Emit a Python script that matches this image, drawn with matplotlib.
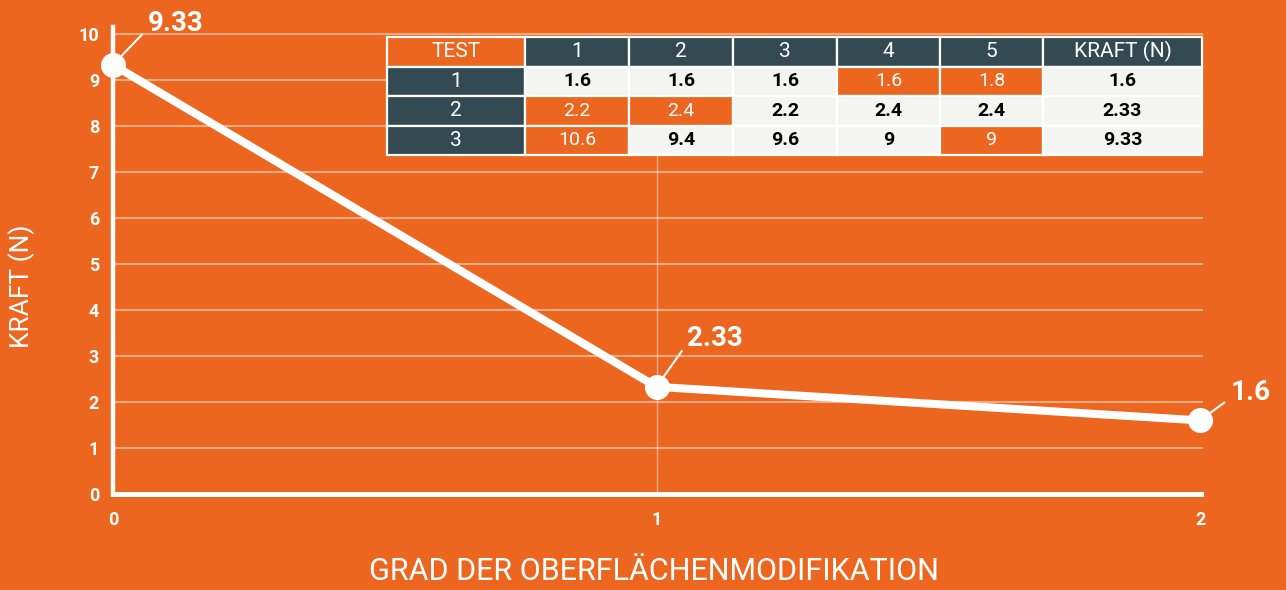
import matplotlib
matplotlib.use("Agg")
import matplotlib.pyplot as plt

# ---- data ----
x_levels = [0, 1, 2]
x_ticklabels = ["0", "1", "2"]
kraft = [9.33, 2.33, 1.6]
kraft_labels = ["9.33", "2.33", "1.6"]
y_ticks = list(range(0, 11))

table_header = ["TEST", "1", "2", "3", "4", "5", "KRAFT (N)"]
table_rows = [
    ["1", "1.6", "1.6", "1.6", "1.6", "1.8", "1.6"],
    ["2", "2.2", "2.4", "2.2", "2.4", "2.4", "2.33"],
    ["3", "10.6", "9.4", "9.6", "9", "9", "9.33"],
]
# cells highlighted in orange (row index, column index)
highlight = [(0, 4), (0, 5), (1, 1), (1, 2), (2, 1), (2, 5)]

ORANGE = "#EC661F"
SLATE = "#344A53"
LIGHT = "#F4F4F2"

plt.rcParams["font.family"] = ["Roboto", "DejaVu Sans"]

fig = plt.figure(figsize=(12.86, 5.9), dpi=100, facecolor=ORANGE)
ax = fig.add_axes([113 / 1286, 1 - 494 / 590, 1087 / 1286, 10.15 * 46 / 590])
ax.set_facecolor(ORANGE)

ax.set_xlim(0, 2)
ax.set_ylim(0, 10.15)

# table placement (axes fraction)
x0 = (387 - 113) / 1087
x1 = (1202 - 113) / 1087
ytop = (494 - 37) / 46 / 10.15
ybot = (494 - 155) / 46 / 10.15

# grid
for yv in y_ticks[1:]:
    ax.axhline(yv, color="white", alpha=0.45, lw=1.5, zorder=1, xmax=1.002, clip_on=False)
ax.axvline(1, color="white", alpha=0.45, lw=1.0, zorder=1, ymax=ybot)

for s in ["top", "right"]:
    ax.spines[s].set_visible(False)
ax.spines["left"].set_color("white")
ax.spines["left"].set_linewidth(3.2)
ax.spines["bottom"].set_color("white")
ax.spines["bottom"].set_linewidth(3.6)
ax.spines["bottom"].set_bounds(0, 2.002)

ax.set_yticks(y_ticks)
ax.set_yticklabels([str(v) for v in y_ticks])
ax.set_xticks(x_levels)
ax.set_xticklabels(x_ticklabels)
ax.tick_params(axis="both", length=0, colors="white", labelsize=13)
ax.tick_params(axis="y", pad=10)
ax.tick_params(axis="x", pad=12)
for lab in ax.get_xticklabels() + ax.get_yticklabels():
    lab.set_fontweight("bold")

fig.text(22 / 1286, 1 - 286 / 590, "KRAFT (N)", color="white", fontsize=19,
         rotation=90, ha="center", va="center")
fig.text(654 / 1286, 1 - 572 / 590, "GRAD DER OBERFLÄCHENMODIFIKATION", color="white",
         fontsize=22, ha="center", va="center")

ax.plot(x_levels, kraft, color="white", lw=5.8, marker="o", markersize=17,
        markerfacecolor="white", markeredgecolor="white", clip_on=False, zorder=5)

offsets = [(25, 30), (22, 35), (22, 20)]
for xv, yv, lab, off in zip(x_levels, kraft, kraft_labels, offsets):
    ax.annotate(lab, (xv, yv), xytext=off, textcoords="offset points",
                ha="left", va="center", color="white", fontsize=20, fontweight="bold",
                arrowprops=dict(arrowstyle="-", color="white", lw=1.5,
                                shrinkA=3, shrinkB=9, relpos=(0, 0.3)),
                zorder=6, annotation_clip=False)

# table
col_w = [138, 104, 104, 104, 103, 103, 159]
tot = sum(col_w)
cell_text = [table_header] + table_rows
tbl = ax.table(cellText=cell_text, colWidths=[w / tot for w in col_w],
               bbox=[x0, ybot, x1 - x0, ytop - ybot], cellLoc="center")
tbl.auto_set_font_size(False)
tbl.set_zorder(10)
for (r, c), cell in tbl.get_celld().items():
    cell.set_edgecolor("white")
    cell.set_linewidth(1.6)
    txt = cell.get_text()
    txt.set_fontsize(14)
    if r == 0:
        cell.set_facecolor(ORANGE if c == 0 else SLATE)
        txt.set_color("white")
        txt.set_fontsize(15)
    elif c == 0:
        cell.set_facecolor(SLATE)
        txt.set_color("white")
        txt.set_fontsize(15)
    elif (r - 1, c) in highlight:
        cell.set_facecolor(ORANGE)
        txt.set_color("white")
    else:
        cell.set_facecolor(LIGHT)
        txt.set_color("black")
        txt.set_fontweight("bold")

fig.savefig("out.png", dpi=100, facecolor=ORANGE)
